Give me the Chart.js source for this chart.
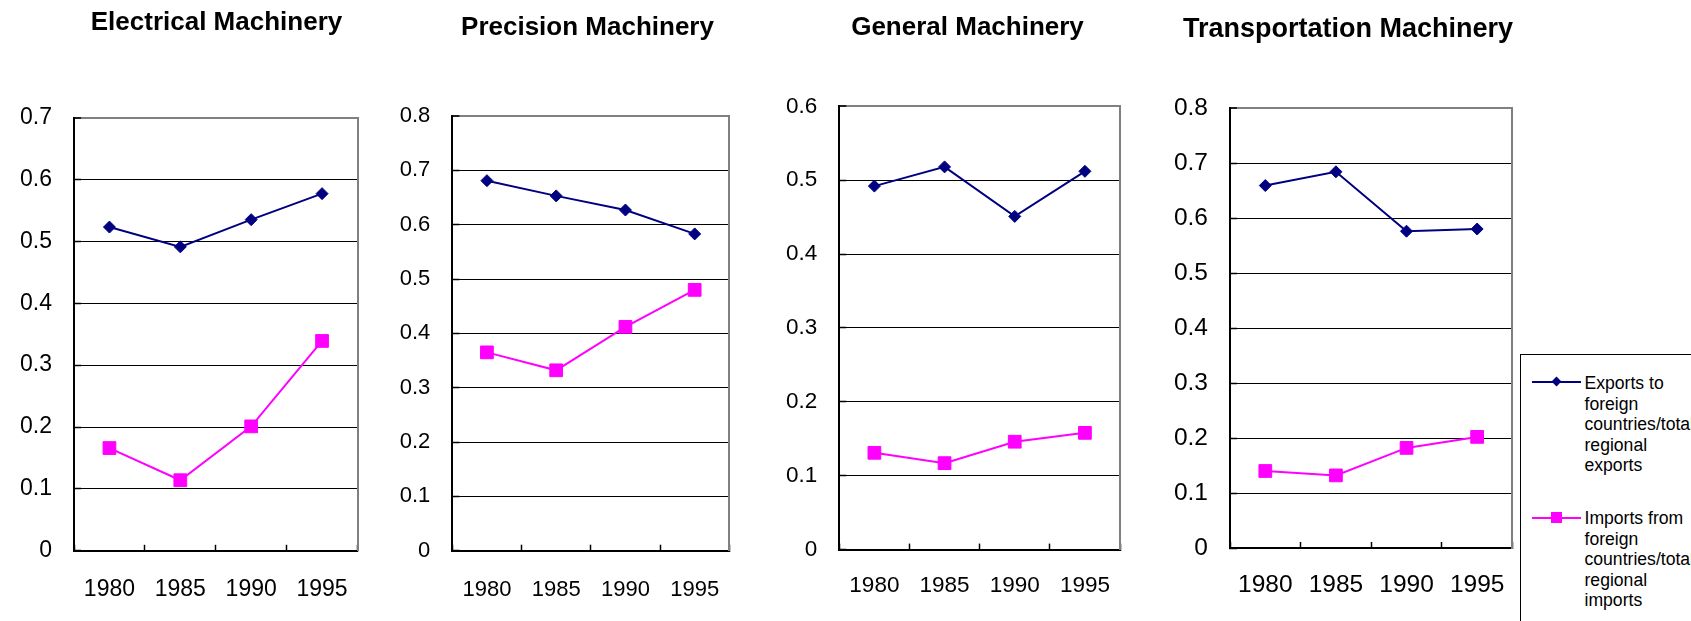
<!DOCTYPE html>
<html>
<head>
<meta charset="utf-8">
<title>Foreign trade ratios by machinery type</title>
<script src="https://cdn.jsdelivr.net/npm/chart.js@4.4.1/dist/chart.umd.min.js"></script>
<style>
  html, body { margin: 0; padding: 0; background: #fff; overflow: hidden; }
  body { width: 1691px; height: 621px; position: relative; font-family: "Liberation Sans", Arial, sans-serif; }
  .panel { position: absolute; top: 0; }
  #legend { position: absolute; left: 1520px; top: 354px; width: 220px; height: 320px; border: 1px solid #000; background: #fff; }
  #legend div { position: absolute; }
  .leg-text { left: 63.5px; font-size: 17.6px; line-height: 20.6px; white-space: nowrap; color: #000; }
</style>
</head>
<body>
<div id="legend"></div>
<script>
// categories
const years = ['1980', '1985', '1990', '1995'];

const titles = ['Electrical Machinery', 'Precision Machinery', 'General Machinery', 'Transportation Machinery'];
const yMax = [0.7, 0.8, 0.6, 0.8];

// exports to foreign countries / total regional exports
const exportsElectrical = [0.523, 0.491, 0.535, 0.577];
const exportsPrecision = [0.681, 0.653, 0.627, 0.583];
const exportsGeneral = [0.492, 0.518, 0.451, 0.512];
const exportsTransport = [0.659, 0.684, 0.576, 0.580];

// imports from foreign countries / total regional imports
const importsElectrical = [0.166, 0.114, 0.201, 0.339];
const importsPrecision = [0.365, 0.332, 0.412, 0.480];
const importsGeneral = [0.131, 0.117, 0.146, 0.158];
const importsTransport = [0.140, 0.132, 0.182, 0.202];

// legend text, one entry per printed line
const exportsLabel = ['Exports to', 'foreign', 'countries/total', 'regional', 'exports'];
const importsLabel = ['Imports from', 'foreign', 'countries/total', 'regional', 'imports'];

const exportSeries = [exportsElectrical, exportsPrecision, exportsGeneral, exportsTransport];
const importSeries = [importsElectrical, importsPrecision, importsGeneral, importsTransport];

const NAVY = '#000080';
const MAGENTA = '#ff00ff';
const H = 621;

Chart.defaults.font.family = '"Liberation Sans", Arial, sans-serif';
Chart.defaults.color = '#000';

// where each small chart sits on the page
const panels = [
  { plotLeft: 74, plotRight: 357.5, plotTop: 117.5, plotBottom: 550.8, titleX: 216.7, titleY: 22.7, labelY: 589.5, tickSize: 23, titleSize: 26 },
  { plotLeft: 452.3, plotRight: 729.3, plotTop: 116, plotBottom: 550.7, titleX: 587.5, titleY: 27.5, labelY: 589.5, tickSize: 22, titleSize: 26 },
  { plotLeft: 839.3, plotRight: 1120, plotTop: 106.3, plotBottom: 549.6, titleX: 967.5, titleY: 27.5, labelY: 585.5, tickSize: 22.5, titleSize: 26 },
  { plotLeft: 1230, plotRight: 1513.5, plotTop: 108, plotBottom: 548, titleX: 1348, titleY: 30, labelY: 585.5, tickSize: 24.5, titleSize: 27 }
];

panels.forEach((p, i) => {
  const left = Math.round(p.plotLeft - 70);
  const width = Math.round(2 * (p.titleX - left)); // title centres on the canvas
  const axisW = p.plotLeft - left;
  const rightW = left + width - p.plotRight;
  const titleLine = p.titleSize * 1.2;
  const max = yMax[i];
  const isTop = c => c.tick && Math.abs(c.tick.value - max) < 1e-9;

  const canvas = document.createElement('canvas');
  canvas.className = 'panel';
  canvas.width = width;
  canvas.height = H;
  canvas.style.left = left + 'px';
  document.body.insertBefore(canvas, document.getElementById('legend'));

  new Chart(canvas, {
    type: 'line',
    data: {
      labels: years,
      datasets: [{
        label: exportsLabel.join(' '),
        data: exportSeries[i],
        borderColor: NAVY,
        backgroundColor: NAVY,
        borderWidth: 2,
        pointStyle: 'rectRot',
        pointRadius: 6,
        pointHoverRadius: 6,
        pointBorderWidth: 1,
        tension: 0
      }, {
        label: importsLabel.join(' '),
        data: importSeries[i],
        borderColor: MAGENTA,
        backgroundColor: MAGENTA,
        borderWidth: 2,
        pointStyle: 'rect',
        pointRadius: 9,
        pointHoverRadius: 9,
        pointBorderWidth: 1,
        tension: 0
      }]
    },
    options: {
      responsive: false,
      animation: false,
      events: [],
      layout: { padding: 0 },
      plugins: {
        legend: { display: false },
        tooltip: { enabled: false },
        title: {
          display: true,
          text: titles[i],
          color: '#000',
          font: { size: p.titleSize, weight: 'bold', lineHeight: 1.2 },
          padding: { top: p.titleY - titleLine / 2, bottom: p.plotTop - p.titleY - titleLine / 2 }
        }
      },
      scales: {
        x: {
          offset: true,
          grid: { offset: true, drawOnChartArea: false, drawTicks: true, tickLength: -6, tickColor: '#000', tickWidth: 1.5 },
          border: { color: '#000', width: 2 },
          ticks: {
            color: '#000',
            font: { size: p.tickSize },
            padding: p.labelY - p.plotBottom + 6 - p.tickSize * 0.6,
            maxRotation: 0,
            autoSkip: false
          },
          afterFit: s => { s.height = H - p.plotBottom; }
        },
        y: {
          min: 0,
          max: max,
          ticks: {
            stepSize: 0.1,
            color: '#000',
            font: { size: p.tickSize },
            padding: 29,
            callback: v => String(Math.round(v * 10) / 10)
          },
          grid: {
            color: c => isTop(c) ? '#808080' : (c.tick && c.tick.value === 0 ? 'rgba(0,0,0,0)' : '#000'),
            lineWidth: c => isTop(c) ? 2 : 1,
            drawTicks: true,
            tickLength: -7,
            tickColor: '#000',
            tickWidth: 1.5
          },
          border: { color: '#000', width: 2 },
          afterFit: s => { s.width = axisW; }
        },
        // empty right axis: draws the grey right edge and keeps the title centred
        yR: {
          position: 'right',
          display: true,
          ticks: { display: false },
          grid: { drawOnChartArea: false, drawTicks: false },
          border: { color: '#808080', width: 2 },
          afterFit: s => { s.width = rightW; }
        }
      }
    }
  });
});

// legend box (Excel style, text wrapped onto several lines)
const legend = document.getElementById('legend');
const legendItems = [
  { lines: exportsLabel, color: NAVY, shape: 'diamond', cy: 26.7, textTop: 18 },
  { lines: importsLabel, color: MAGENTA, shape: 'square', cy: 162.7, textTop: 153 }
];
legendItems.forEach(item => {
  const line = document.createElement('div');
  line.style.cssText = `left:11px;width:49px;height:2px;top:${item.cy - 1}px;background:${item.color}`;
  legend.appendChild(line);

  const mark = document.createElement('div');
  if (item.shape === 'diamond') {
    mark.style.cssText = `left:32.2px;top:${item.cy - 3.5}px;width:7px;height:7px;transform:rotate(45deg);background:${item.color}`;
  } else {
    mark.style.cssText = `left:30.45px;top:${item.cy - 5.25}px;width:10.5px;height:10.5px;background:${item.color}`;
  }
  legend.appendChild(mark);

  const text = document.createElement('div');
  text.className = 'leg-text';
  text.style.top = item.textTop + 'px';
  text.innerHTML = item.lines.join('<br>');
  legend.appendChild(text);
});
</script>
</body>
</html>
